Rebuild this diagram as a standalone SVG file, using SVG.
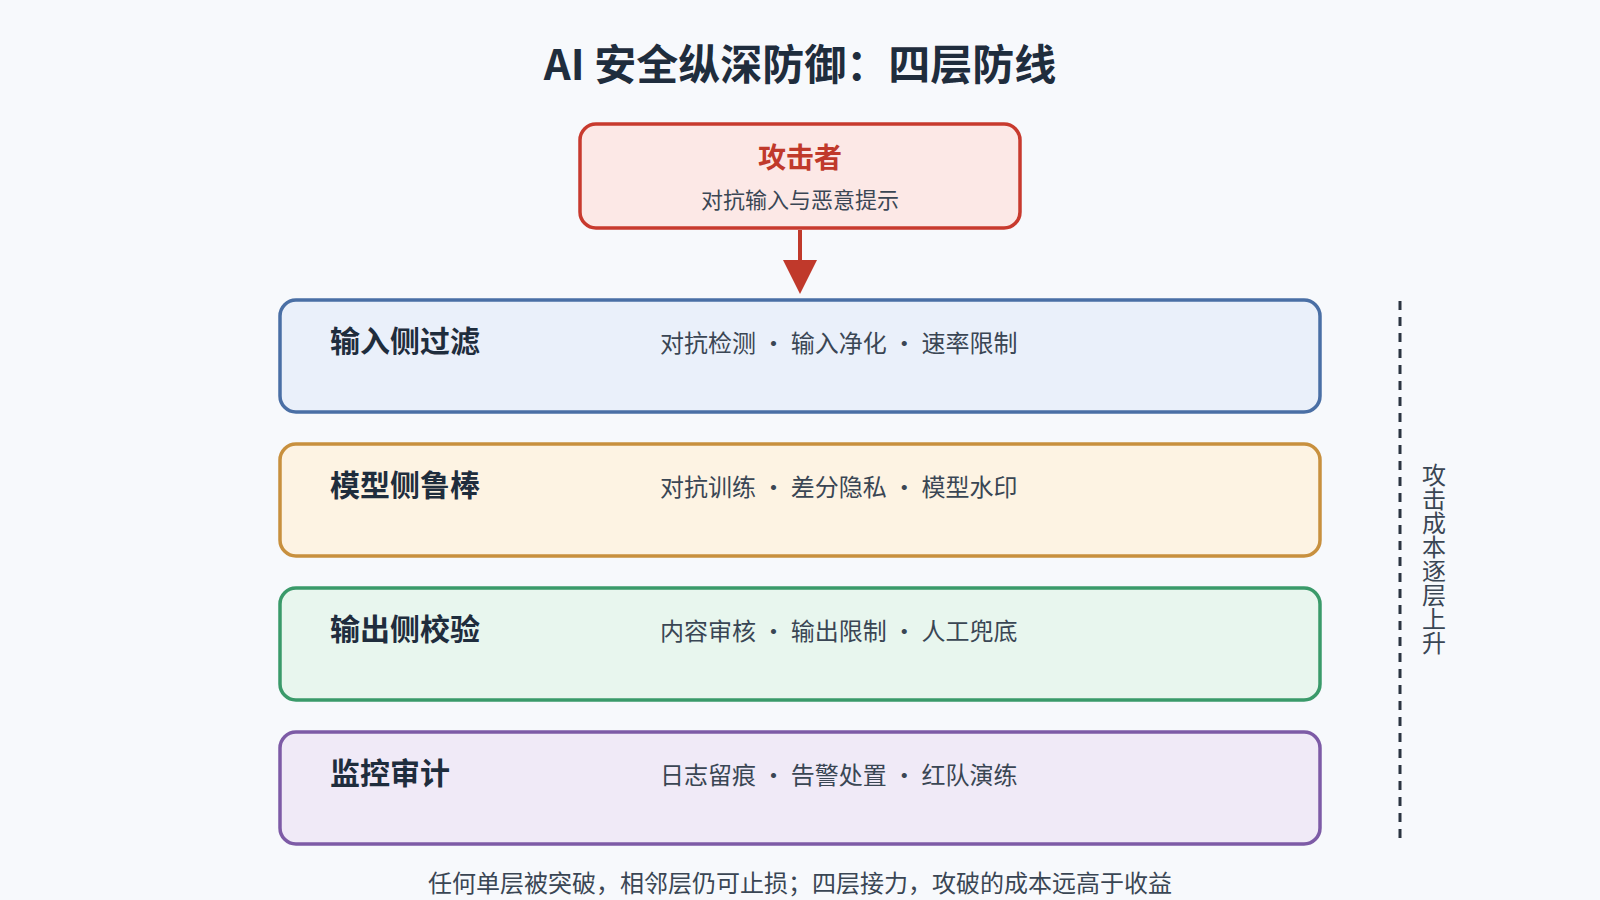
<svg xmlns="http://www.w3.org/2000/svg" width="1600" height="900" viewBox="0 0 1600 900">
<defs>
<style>
text{font-family:"Noto Sans CJK SC","Noto Sans",sans-serif;}
.t{font-size:30px;font-weight:bold;fill:#1f2d3d;}
.d{font-size:24px;fill:#3a4654;}
.box{stroke-width:3.5;}
</style>
<marker id="ah" markerWidth="10" markerHeight="10" refX="5" refY="9" orient="auto" markerUnits="userSpaceOnUse" viewBox="0 0 10 10"><path d="M0,0 L10,0 L5,10 Z" fill="#c0392b"/></marker>
</defs>
<rect width="1600" height="900" fill="#f7f9fc"/>
<text x="800" y="80" text-anchor="middle" font-size="42" font-weight="bold" fill="#1f2d3d">AI 安全纵深防御：四层防线</text>
<g id="attacker">
<rect x="580" y="124" width="440" height="104" rx="16" fill="#fce8e6" stroke="#c83a2e" stroke-width="3.5"/>
<text x="800" y="168" text-anchor="middle" font-size="28" font-weight="bold" fill="#c0392b">攻击者</text>
<text x="800" y="208" text-anchor="middle" font-size="22" fill="#3a4654">对抗输入与恶意提示</text>
</g>
<g id="connectors">
<line x1="800" y1="230" x2="800" y2="260" stroke="#c0392b" stroke-width="4"/>
<path d="M783,260 L817,260 L800,294 Z" fill="#c0392b"/>
<line x1="1400" y1="301" x2="1400" y2="844" stroke="#2b3440" stroke-width="3" stroke-dasharray="9,7"/>
</g>
<g id="layer1">
<rect class="box" x="280" y="300" width="1040" height="112" rx="16" fill="#eaf0fa" stroke="#4a6fa5"/>
<text class="t" x="330" y="352">输入侧过滤</text>
<text class="d" x="660" y="352">对抗检测 · 输入净化 · 速率限制</text>
</g>
<g id="layer2">
<rect class="box" x="280" y="444" width="1040" height="112" rx="16" fill="#fdf3e3" stroke="#c8903e"/>
<text class="t" x="330" y="496">模型侧鲁棒</text>
<text class="d" x="660" y="496">对抗训练 · 差分隐私 · 模型水印</text>
</g>
<g id="layer3">
<rect class="box" x="280" y="588" width="1040" height="112" rx="16" fill="#e8f6ee" stroke="#3a9a6a"/>
<text class="t" x="330" y="640">输出侧校验</text>
<text class="d" x="660" y="640">内容审核 · 输出限制 · 人工兜底</text>
</g>
<g id="layer4">
<rect class="box" x="280" y="732" width="1040" height="112" rx="16" fill="#f0eaf7" stroke="#7d5ba6"/>
<text class="t" x="330" y="784">监控审计</text>
<text class="d" x="660" y="784">日志留痕 · 告警处置 · 红队演练</text>
</g>
<text x="1434" y="559" text-anchor="middle" font-size="24" fill="#3a4654" style="writing-mode:vertical-rl">攻击成本逐层上升</text>
<text x="800" y="892" text-anchor="middle" font-size="24" fill="#3a4654">任何单层被突破，相邻层仍可止损；四层接力，攻破的成本远高于收益</text>
</svg>
